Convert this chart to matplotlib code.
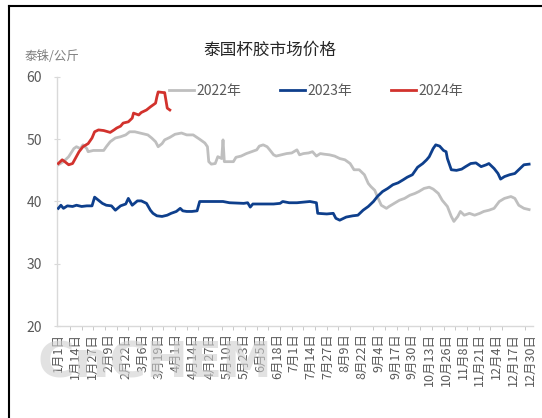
import matplotlib
matplotlib.use("Agg")
import matplotlib.pyplot as plt
from matplotlib.lines import Line2D
import numpy as np

plt.rcParams['font.family'] = ['Noto Sans CJK SC', 'DejaVu Sans']

title = "泰国杯胶市场价格"
unit = "泰铢/公斤"

tick_days = [0, 13, 26, 39, 52, 65, 78, 91, 104, 117, 130, 143, 156, 169, 182,
             195, 208, 221, 234, 247, 260, 273, 286, 299, 312, 325, 338, 351, 364]
tick_labels = ["1月1日", "1月14日", "1月27日", "2月9日", "2月22日", "3月6日", "3月19日",
               "4月1日", "4月14日", "4月27日", "5月10日", "5月23日", "6月5日", "6月18日",
               "7月1日", "7月14日", "7月27日", "8月9日", "8月22日", "9月4日", "9月17日",
               "9月30日", "10月13日", "10月26日", "11月8日", "11月21日", "12月4日",
               "12月17日", "12月30日"]

days_2022 = [0, 4, 8, 12, 14, 17, 19, 22, 23, 27, 35, 37, 40, 44, 48, 52, 55, 59, 63, 67,
             69, 72, 75, 77, 80, 82, 86, 90, 95, 99, 104, 109, 113, 115, 116, 118, 121, 123,
             126, 127, 128, 135, 137, 141, 145, 149, 153, 155, 158, 161, 163, 166, 168, 172,
             176, 180, 184, 186, 189, 193, 196, 199, 202, 205, 209, 213, 217, 221, 225, 228,
             232, 236, 239, 241, 244, 246, 249, 253, 255, 259, 263, 267, 271, 275, 278, 282,
             286, 289, 293, 296, 300, 303, 305, 308, 310, 313, 317, 321, 325, 328, 332, 336,
             340, 344, 349, 352, 355, 359, 363]
vals_2022 = [45.9, 46.4, 47.2, 48.5, 48.8, 48.5, 49.1, 48.5, 48.0, 48.2, 48.2, 48.8, 49.6,
             50.2, 50.4, 50.7, 51.2, 51.2, 51.0, 50.8, 50.7, 50.2, 49.6, 48.8, 49.3, 49.9,
             50.3, 50.8, 51.0, 50.7, 50.7, 50.0, 49.4, 48.8, 46.4, 46.0, 46.1, 47.2, 46.9,
             49.9, 46.4, 46.4, 47.1, 47.3, 47.7, 48.0, 48.3, 48.9, 49.1, 48.8, 48.3, 47.5,
             47.3, 47.5, 47.7, 47.8, 48.3, 47.5, 47.7, 47.8, 48.0, 47.3, 47.7, 47.6, 47.5,
             47.3, 46.9, 46.7, 46.1, 45.1, 45.1, 44.3, 42.9, 42.4, 41.8, 40.8, 39.4, 38.9,
             39.2, 39.7, 40.2, 40.5, 41.0, 41.3, 41.6, 42.1, 42.3, 42.0, 41.3, 40.2, 39.2,
             37.6, 36.8, 37.6, 38.4, 37.8, 38.1, 37.8, 38.1, 38.4, 38.6, 38.9, 40.0, 40.5,
             40.8, 40.5, 39.4, 38.9, 38.7]

days_2023 = [0, 2, 4, 7, 11, 14, 18, 22, 26, 28, 31, 34, 37, 41, 44, 48, 52, 54, 57, 61,
             64, 68, 71, 73, 76, 80, 84, 87, 91, 94, 96, 99, 103, 107, 109, 116, 122, 127,
             132, 143, 146, 148, 150, 158, 166, 171, 173, 178, 184, 194, 199, 200, 207, 212,
             214, 217, 222, 227, 231, 235, 239, 243, 246, 250, 254, 258, 262, 266, 269, 273,
             277, 281, 284, 286, 289, 291, 294, 297, 299, 300, 303, 307, 311, 314, 318, 322,
             326, 330, 332, 336, 339, 341, 344, 348, 352, 355, 359, 363]
vals_2023 = [38.9, 39.4, 38.9, 39.3, 39.2, 39.4, 39.2, 39.3, 39.3, 40.7, 40.2, 39.7, 39.4,
             39.3, 38.6, 39.3, 39.6, 40.5, 39.4, 40.1, 40.1, 39.7, 38.6, 38.1, 37.7, 37.6,
             37.8, 38.1, 38.4, 38.9, 38.5, 38.4, 38.4, 38.5, 40.0, 40.0, 40.0, 40.0, 39.8,
             39.7, 39.8, 39.1, 39.6, 39.6, 39.6, 39.7, 40.0, 39.8, 39.8, 40.0, 39.8, 38.1,
             38.0, 38.1, 37.3, 37.0, 37.5, 37.7, 37.8, 38.6, 39.2, 40.0, 40.8, 41.6, 42.1,
             42.7, 43.0, 43.5, 43.9, 44.3, 45.5, 46.1, 46.7, 47.2, 48.5, 49.1, 48.9, 48.2,
             48.0, 46.9, 45.1, 45.0, 45.2, 45.6, 46.1, 46.2, 45.6, 45.9, 46.1, 45.3, 44.5,
             43.6, 44.0, 44.3, 44.5, 45.1, 45.9, 46.0]

days_2024 = [0, 3, 5, 8, 11, 16, 19, 23, 26, 28, 31, 35, 40, 43, 45, 48, 50, 54, 57, 58,
             62, 64, 68, 71, 73, 75, 76, 77, 81, 82, 84, 86]
vals_2024 = [46.1, 46.7, 46.4, 45.9, 46.1, 48.0, 48.8, 49.3, 50.2, 51.2, 51.5, 51.4, 51.1,
             51.5, 51.8, 52.1, 52.6, 52.8, 53.4, 54.2, 53.9, 54.3, 54.7, 55.2, 55.5, 55.8,
             56.8, 57.6, 57.5, 57.5, 55.0, 54.7]

series_names = ["2022年", "2023年", "2024年"]
colors = ["#BFBFBF", "#0E3F8C", "#D2322D"]

fig = plt.figure(figsize=(5.42, 4.18), dpi=100)
ax = fig.add_axes([57/542, (418-326)/418, 476/542, 249/418])

ax.plot(days_2022, vals_2022, color=colors[0], lw=2.0, label=series_names[0], zorder=2)
ax.plot(days_2023, vals_2023, color=colors[1], lw=2.0, label=series_names[1], zorder=3)
ax.plot(days_2024, vals_2024, color=colors[2], lw=2.0, label=series_names[2], zorder=4)

ax.set_xlim(-1, 366)
ax.set_ylim(20, 60)
ax.set_yticks([20, 30, 40, 50, 60])
ax.set_xticks(tick_days)
ax.set_xticklabels(tick_labels, rotation=90, fontsize=9, color="#595959")
ax.set_xticks(np.arange(0, 366, 9), minor=True)
ax.tick_params(axis='x', which='major', length=0, pad=5)
ax.tick_params(axis='x', which='minor', length=3, color="#BFBFBF", direction='out')
ax.tick_params(axis='y', length=4, color="#D9D9D9", direction='inout', labelsize=10,
               labelcolor="#595959", pad=9)

for s in ['top', 'right']:
    ax.spines[s].set_visible(False)
for s in ['left', 'bottom']:
    ax.spines[s].set_color("#D9D9D9")
    ax.spines[s].set_linewidth(1.0)

leg = ax.legend(loc='center left', bbox_to_anchor=(0.236, 0.945), ncol=3, frameon=False,
                fontsize=10, handlelength=1.8, handletextpad=0.15, columnspacing=2.8,
                borderpad=0, borderaxespad=0)
for t in leg.get_texts():
    t.set_color("#595959")

fig.text(270/542, 1 - 50/418, title, ha='center', va='center', fontsize=12, color="#262626")
fig.text(25/542, 1 - 57/418, unit, ha='left', va='center', fontsize=9, color="#7F7F7F")

# watermark
fig.text(37/542, 1 - 363/418, "CnCHEM", ha='left', va='center', fontsize=36,
         fontweight='bold', color="#D0D0D0", alpha=0.6, zorder=0, family='DejaVu Sans')

# screenshot frame lines
fig.add_artist(Line2D([9/542, 9/542], [0, 1 - 6/418], color='black', lw=1.5,
                      transform=fig.transFigure))
fig.add_artist(Line2D([9/542, 1], [1 - 6/418, 1 - 6/418], color='black', lw=1.5,
                      transform=fig.transFigure))

fig.savefig("out.png", dpi=100)
